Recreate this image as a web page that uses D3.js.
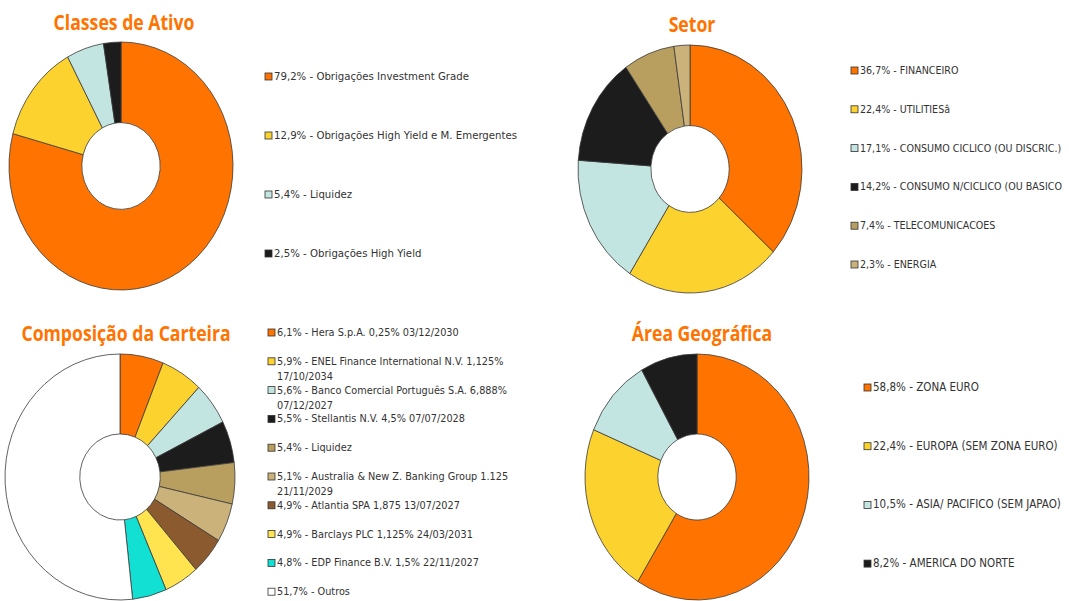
<!DOCTYPE html>
<html>
<head>
<meta charset="utf-8">
<script src="https://cdn.jsdelivr.net/npm/d3@7"></script>
<style>
  body { margin: 0; background: #fff; }
  .title { font-family: "Open Sans", sans-serif; font-weight: 700; fill: #ff7300; }
  .legend text { font-family: "DejaVu Sans Condensed", "DejaVu Sans", sans-serif; fill: #333; }
</style>
</head>
<body>
<svg id="chart" width="1069" height="601"></svg>
<script>
// Classes de Ativo
const classesLabels = ["79,2% -  Obrigações Investment Grade", "12,9% -  Obrigações High Yield e M. Emergentes", "5,4% - Liquidez", "2,5% -  Obrigações High Yield"];
const classesValues = [79.2, 12.9, 5.4, 2.5];

// Setor
const setorLabels = ["36,7% - FINANCEIRO", "22,4% - UTILITIESâ", "17,1% - CONSUMO CICLICO (OU DISCRIC.)", "14,2% - CONSUMO N/CICLICO (OU BASICO", "7,4% - TELECOMUNICACOES", "2,3% - ENERGIA"];
const setorValues = [36.7, 22.4, 17.1, 14.2, 7.4, 2.3];

// Composição da Carteira
const carteiraLabels = [
    ["6,1% - Hera S.p.A. 0,25% 03/12/2030"],
    ["5,9% - ENEL Finance International N.V. 1,125%", "17/10/2034"],
    ["5,6% - Banco Comercial Português S.A. 6,888%", "07/12/2027"],
    ["5,5% - Stellantis N.V. 4,5% 07/07/2028"],
    ["5,4% - Liquidez"],
    ["5,1% - Australia & New Z. Banking Group 1.125", "21/11/2029"],
    ["4,9% - Atlantia SPA 1,875 13/07/2027"],
    ["4,9% - Barclays PLC 1,125% 24/03/2031"],
    ["4,8% - EDP Finance B.V. 1,5% 22/11/2027"],
    ["51,7% - Outros"]
];
const carteiraValues = [6.1, 5.9, 5.6, 5.5, 5.4, 5.1, 4.9, 4.9, 4.8, 51.7];

// Área Geográfica
const areaLabels = ["58,8% - ZONA EURO", "22,4% - EUROPA (SEM ZONA EURO)", "10,5% - ASIA/ PACIFICO (SEM JAPAO)", "8,2% - AMERICA DO NORTE"];
const areaValues = [58.8, 22.4, 10.5, 8.2];

// colours
const orange = "#ff7300", yellow = "#fcd22e", teal = "#c2e5e1", black = "#1c1c1c",
      tan = "#b89e5f", lightTan = "#cbb27a", brown = "#8b5a2f", lemon = "#ffe34f",
      cyan = "#12e0d3", white = "#ffffff";

const svg = d3.select("#chart");

function drawDonut(cfg) {
    let g = svg.append("g")
        .attr("transform", `translate(${cfg.cx}, ${cfg.cy}) scale(${cfg.rx / cfg.ry}, 1)`);

    let pie = d3.pie().sort(null).value(d => d);
    let arc = d3.arc().innerRadius(cfg.ry * 0.35).outerRadius(cfg.ry);
    let color = d3.scaleOrdinal().domain(d3.range(cfg.values.length)).range(cfg.colors);

    g.selectAll("path")
        .data(pie(cfg.values))
        .join("path")
            .attr("d", arc)
            .attr("fill", (d, i) => color(i))
            .attr("stroke", "#3a3a3a")
            .attr("stroke-width", 0.8)
            .attr("vector-effect", "non-scaling-stroke");

    // title font is a condensed face, so squeeze a regular bold one
    svg.append("text")
        .attr("class", "title")
        .attr("transform", `translate(${cfg.titleX}, ${cfg.titleY}) scale(0.84, 1)`)
        .attr("text-anchor", "middle")
        .attr("font-size", 21)
        .text(cfg.title);

    let legend = svg.append("g").attr("class", "legend");
    let rows = legend.selectAll("g")
        .data(cfg.labels)
        .join("g")
            .attr("transform", (d, i) => `translate(${cfg.legendX}, ${cfg.legendY + i * cfg.legendStep})`);

    rows.append("rect")
        .attr("x", 0).attr("y", -7)
        .attr("width", 7).attr("height", 7)
        .attr("fill", (d, i) => color(i))
        .attr("stroke", "#333")
        .attr("stroke-width", 0.8);

    rows.append("text")
        .attr("x", 9)
        .attr("font-size", cfg.fontSize)
        .selectAll("tspan")
        .data(d => Array.isArray(d) ? d : [d])
        .join("tspan")
            .attr("x", 9)
            .attr("dy", (d, i) => i === 0 ? 0 : 15)
            .text(d => d);
}

drawDonut({
    title: "Classes de Ativo", titleX: 124, titleY: 30,
    cx: 121, cy: 166, rx: 112, ry: 124,
    values: classesValues, labels: classesLabels,
    colors: [orange, yellow, teal, black],
    legendX: 265, legendY: 80, legendStep: 59, fontSize: 11.3
});

drawDonut({
    title: "Setor", titleX: 692, titleY: 32,
    cx: 690, cy: 169, rx: 112, ry: 124,
    values: setorValues, labels: setorLabels,
    colors: [orange, yellow, teal, black, tan, lightTan],
    legendX: 851, legendY: 74, legendStep: 38.8, fontSize: 10.6
});

drawDonut({
    title: "Composição da Carteira", titleX: 126, titleY: 341,
    cx: 120, cy: 477, rx: 115, ry: 123,
    values: carteiraValues, labels: carteiraLabels,
    colors: [orange, yellow, teal, black, tan, lightTan, brown, lemon, cyan, white],
    legendX: 268, legendY: 336, legendStep: 28.8, fontSize: 10.8
});

drawDonut({
    title: "Área Geográfica", titleX: 702, titleY: 341,
    cx: 697, cy: 477, rx: 112, ry: 123,
    values: areaValues, labels: areaLabels,
    colors: [orange, yellow, teal, black],
    legendX: 864, legendY: 391, legendStep: 58.7, fontSize: 11.5
});
</script>
</body>
</html>
